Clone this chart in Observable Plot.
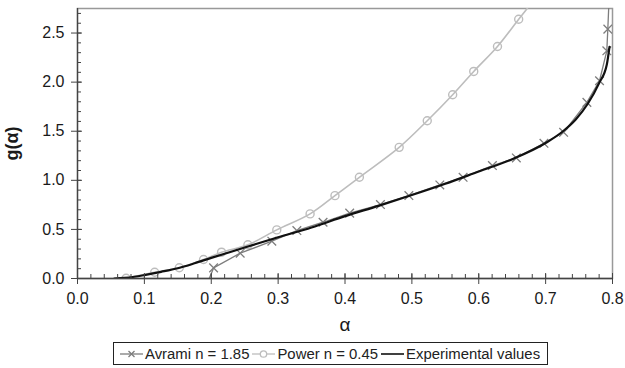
<!DOCTYPE html>
<html><head><meta charset="utf-8">
<script src="https://cdn.jsdelivr.net/npm/d3@7"></script>
<script src="https://cdn.jsdelivr.net/npm/@observablehq/plot@0.6"></script>
<style>
body{margin:0;background:#fff;font-family:Arial,"Liberation Sans",sans-serif;}
#wrap{width:625px;height:368px;position:relative;}
#legend{position:absolute;left:113px;top:342px;width:435px;height:23px;border:1px solid #222;box-sizing:border-box;display:flex;align-items:center;justify-content:flex-start;padding-left:6px;font-size:14.9px;color:#222;white-space:nowrap;}
#legend span{display:inline-flex;align-items:center;margin-right:3px;}
#legend svg{margin-right:2px;}
</style></head>
<body><div id="wrap"><div id="chart"></div><div id="legend"></div></div>
<script>
// Avrami n = 1.85 (line points; first and last points have no marker)
const avramiAlpha = [0.197,0.2035,0.2433,0.2906,0.328,0.3672,0.4070,0.453,0.4955,0.5418,0.5766,0.6204,0.6562,0.6975,0.7269,0.7617,0.7806,0.7915,0.7930,0.7955];
const avramiG     = [0.0,  0.108, 0.258, 0.380, 0.488,0.573, 0.666, 0.753,0.845, 0.953, 1.031, 1.150, 1.228, 1.377, 1.489, 1.794, 2.014, 2.319, 2.54, 2.95];
const avramiMarked = [false,true,true,true,true,true,true,true,true,true,true,true,true,true,true,true,true,true,true,false];
// Power n = 0.45
const powerAlpha = [0.0727,0.1154,0.1522,0.1885,0.2154,0.2548,0.298,0.3478,0.385,0.4215,0.481,0.523,0.561,0.5925,0.628,0.6597,0.685];
const powerG     = [0.003, 0.064, 0.109, 0.193, 0.268, 0.343, 0.495,0.658, 0.844,1.031, 1.336,1.607,1.872,2.109, 2.363,2.64, 2.86];
const powerMarked = [true,true,true,true,true,true,true,true,true,true,true,true,true,true,true,true,false];
// Experimental values
const expAlpha = [0.055,0.07,0.085,0.1,0.125,0.15,0.175,0.2,0.25,0.3,0.35,0.4,0.45,0.5,0.55,0.6,0.65,0.7,0.726,0.745,0.763,0.78,0.7915,0.7955];
const expG     = [0.0, 0.006,0.018,0.035,0.068,0.105,0.155,0.21,0.315,0.42,0.52,0.635,0.74,0.85,0.965,1.09,1.215,1.38,1.50,1.62,1.78,1.99,2.18,2.36];

const xTicks = [0,0.1,0.2,0.3,0.4,0.5,0.6,0.7,0.8];
const xMinor = d3.range(0,41).map(i=>i/50);
const yTicks = [0,0.5,1.0,1.5,2.0,2.5];
const yMinor = d3.range(0,28).map(i=>i/10);

const avrami = avramiAlpha.map((a,i)=>({a, g: avramiG[i], m: avramiMarked[i]}));
const power = powerAlpha.map((a,i)=>({a, g: powerG[i], m: powerMarked[i]}));
const exp = expAlpha.map((a,i)=>({a, g: expG[i]}));

const cAvr = "#7d7d7d", cPow = "#bdbdbd", cAxis = "#444";

const chart = Plot.plot({
  width: 625, height: 335,
  marginLeft: 77, marginRight: 13, marginTop: 8, marginBottom: 57,
  style: {fontFamily: "Arial, 'Liberation Sans', sans-serif", fontSize: "16px", color: "#1a1a1a", background: "#fff"},
  x: {domain: [0, 0.8]},
  y: {domain: [0, 2.75]},
  marks: [
    Plot.frame({stroke: "#999", strokeWidth: 1.5}),
    Plot.line(power, {x: "a", y: "g", stroke: cPow, strokeWidth: 1.6, curve: "catmull-rom", clip: true}),
    Plot.dot(power.filter(d=>d.m), {x: "a", y: "g", stroke: cPow, r: 4, strokeWidth: 1.4, fill: "none", clip: true}),
    Plot.line(avrami, {x: "a", y: "g", stroke: cAvr, strokeWidth: 1.3, clip: true}),
    Plot.dot(avrami.filter(d=>d.m), {x: "a", y: "g", stroke: cAvr, symbol: "times", r: 4, strokeWidth: 1.3, clip: true}),
    Plot.line(exp, {x: "a", y: "g", stroke: "#111", strokeWidth: 2.2, curve: "monotone-x", clip: true}),
    Plot.ruleY([0], {stroke: cAxis, strokeWidth: 1.3}),
    Plot.ruleX([0], {stroke: cAxis, strokeWidth: 1.3}),
    Plot.axisX(xTicks, {tickSize: 6, tickPadding: 8, stroke: cAxis, tickFormat: d3.format(".1f"), fontSize: 16, label: null}),
    Plot.axisX(xTicks, {tickSize: -5, stroke: cAxis, text: null, label: null}),
    Plot.axisX(xMinor, {tickSize: -4, stroke: cAxis, text: null, label: null}),
    Plot.axisY(yTicks, {tickSize: 6, tickPadding: 7, stroke: cAxis, tickFormat: d3.format(".1f"), fontSize: 16, label: null}),
    Plot.axisY(yTicks, {tickSize: -5, stroke: cAxis, text: null, label: null}),
    Plot.axisY(yMinor, {tickSize: -4, stroke: cAxis, text: null, label: null}),
    Plot.axisX([], {label: "α", labelAnchor: "center", labelArrow: "none", labelOffset: 52, fontSize: 19, tickSize: 0}),
    Plot.axisY([], {label: "g(α)", labelAnchor: "center", labelArrow: "none", labelOffset: 72, fontSize: 18, fontWeight: "bold", tickSize: 0})
  ]
});
document.getElementById("chart").appendChild(chart);

const legendItems = [
  {label: "Avrami n = 1.85", color: cAvr, sym: "x"},
  {label: "Power n = 0.45", color: cPow, sym: "o"},
  {label: "Experimental values", color: "#111", sym: ""}
];
const lg = document.getElementById("legend");
for (const it of legendItems) {
  const s = document.createElement("span");
  let symSvg = "";
  if (it.sym === "x") symSvg = `<path d="M8.5,3L14.5,9M14.5,3L8.5,9" stroke="${it.color}" stroke-width="1.3"/>`;
  if (it.sym === "o") symSvg = `<circle cx="11.5" cy="6" r="3.2" fill="#fff" stroke="${it.color}" stroke-width="1.3"/>`;
  s.innerHTML = `<svg width="23" height="12"><line x1="0" y1="6" x2="23" y2="6" stroke="${it.color}" stroke-width="${it.sym? 1.3 : 1.6}"/>${symSvg}</svg>${it.label}`;
  lg.appendChild(s);
}
</script></body></html>
